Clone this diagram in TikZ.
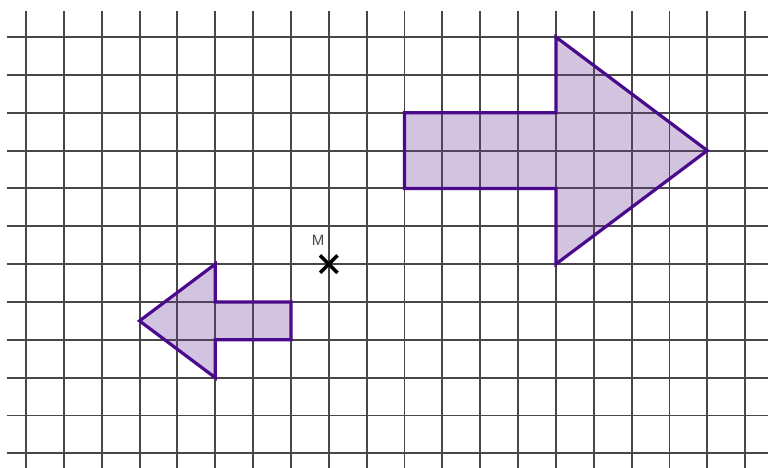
\documentclass[tikz,border=0pt]{standalone}
\usepackage{fontspec}
\setmainfont{Liberation Sans}
\definecolor{gridc}{HTML}{484848}
\definecolor{arrowline}{HTML}{4B0A8C}
\definecolor{arrowfill}{HTML}{6A3D9A}
\tikzset{
  gridline/.style={draw=gridc, line width=1.9pt},
  shapearrow/.style={draw=arrowline, line width=3.2pt, line join=miter, fill=arrowfill, fill opacity=0.3, draw opacity=1},
  crossline/.style={draw=black, line width=3.6pt},
}
\begin{document}
\begin{tikzpicture}[x=37.85pt, y=-37.85pt]
\useasboundingbox (-0.6869,-0.9775) rectangle (19.6037,11.3870);
\fill[white] (-0.6869,-0.9775) rectangle (19.6037,11.3870);
% grid
\foreach \i in {0,...,19} {
  \draw[gridline] (\i,-0.6869) -- (\i,11.3870);
}
\foreach \j in {0,...,11} {
  \draw[gridline] (-0.502,\j) -- (19.6037,\j);
}
% big arrow
\path[shapearrow] (10,2) -- (14,2) -- (14,0) -- (18,3) -- (14,6) -- (14,4) -- (10,4) -- cycle;
% small arrow (image under -1/2 homothety centred at M)
\path[shapearrow] (3,7.5) -- (5,6) -- (5,7) -- (7,7) -- (7,8) -- (5,8) -- (5,9) -- cycle;
% centre M
\coordinate (M) at (8,6);
\draw[crossline] ([shift={(-0.23,-0.23)}]M) -- ([shift={(0.23,0.23)}]M);
\draw[crossline] ([shift={(-0.23,0.23)}]M) -- ([shift={(0.23,-0.23)}]M);
\node[text=gridc, font=\fontsize{15pt}{16pt}\selectfont, inner sep=0pt] (Mlabel) at (7.715,5.363) {M};
\end{tikzpicture}
\end{document}
